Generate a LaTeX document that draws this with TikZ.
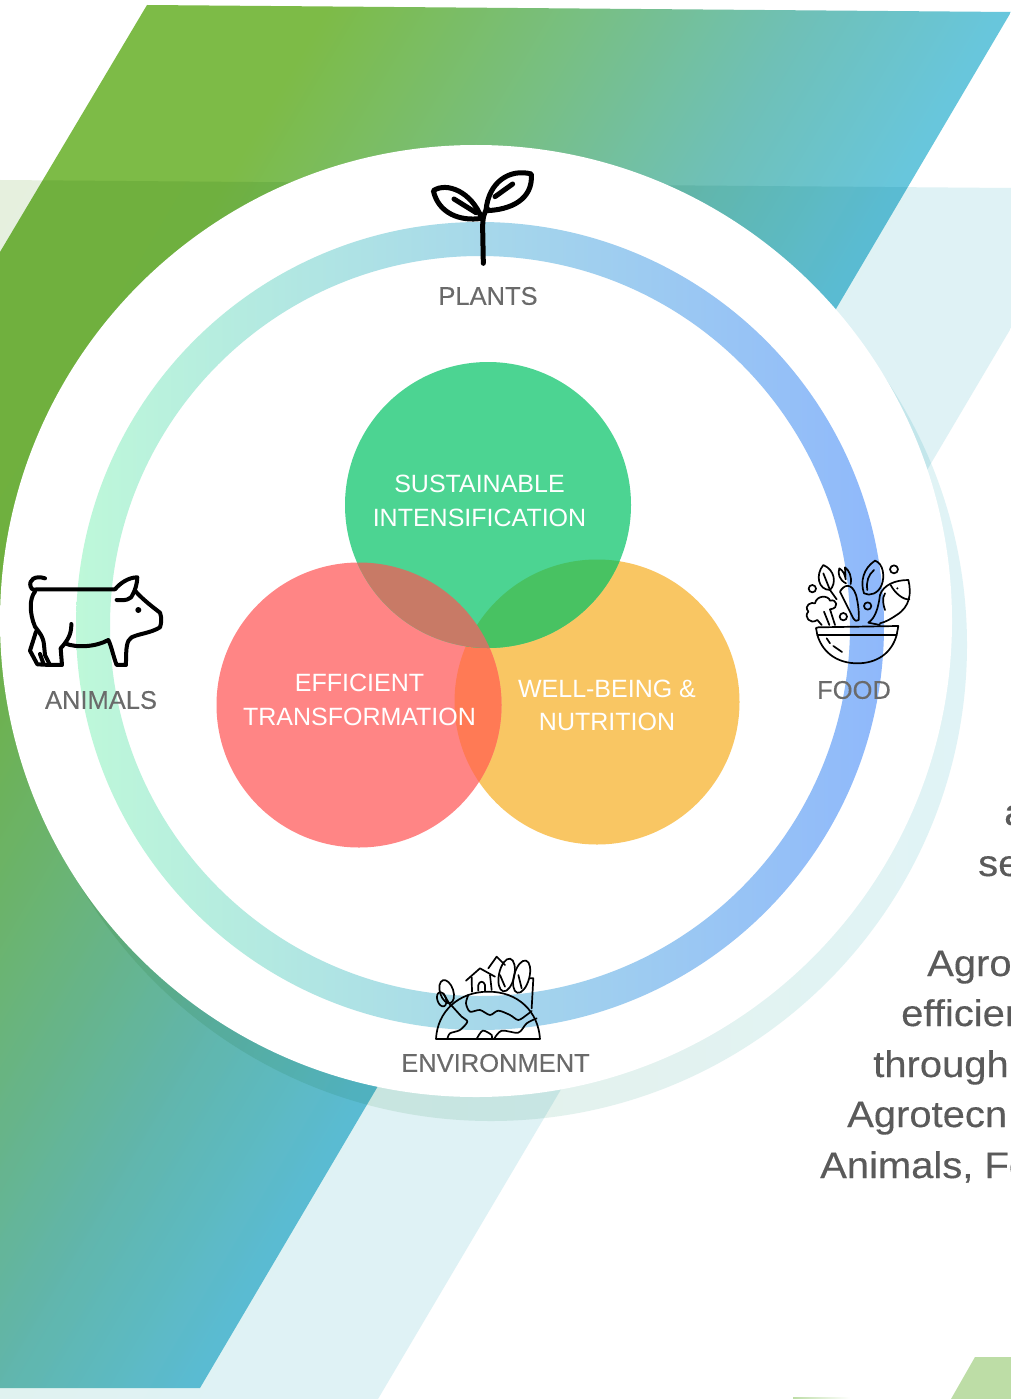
\documentclass[tikz,border=0pt]{standalone}
\usepackage{fontspec}
\setmainfont{Liberation Sans}
\newfontfamily\lblfont[FakeBold=0.25]{Liberation Sans}
\newfontfamily\bodyfont[FakeBold=0.3,FakeStretch=1.08]{Liberation Sans}
\usetikzlibrary{calc}
\definecolor{txtgray}{HTML}{6A6A6A}
\definecolor{bodygray}{HTML}{5A5A5A}
\definecolor{vgreen}{HTML}{4CD492}
\definecolor{vred}{HTML}{FF8585}
\definecolor{vorange}{HTML}{F9C663}
\definecolor{vrg}{HTML}{C87A66}
\definecolor{vgo}{HTML}{48C262}
\definecolor{vro}{HTML}{FF7A55}
\definecolor{ma}{HTML}{7DBB47}
\definecolor{mb}{HTML}{78BF82}
\definecolor{mc}{HTML}{6FC0B7}
\definecolor{md}{HTML}{68C6DC}
\definecolor{pa}{HTML}{E6F0DE}
\definecolor{pb}{HTML}{E2F1EA}
\definecolor{pc}{HTML}{DFF2F5}
\definecolor{sha}{HTML}{E8F1E2}
\definecolor{shb}{HTML}{E0F3F6}
\definecolor{ra}{HTML}{BEF8D9}
\definecolor{rb}{HTML}{ACD9EC}
\definecolor{rc}{HTML}{8FB8FB}
\definecolor{corner}{HTML}{BDDDA6}
\pgfdeclarehorizontalshading{maingrad}{100bp}{color(0bp)=(ma);color(42.7bp)=(ma);color(48.3bp)=(mb);color(53.1bp)=(mc);color(57.3bp)=(md);color(100bp)=(md)}
\pgfdeclarehorizontalshading{palegrad}{100bp}{color(0bp)=(pa);color(38.1bp)=(pa);color(48.1bp)=(pb);color(58.1bp)=(pc);color(100bp)=(pc)}
\tikzset{
  lbl/.style={font=\lblfont\fontsize{25.5}{30}\selectfont,text=txtgray,inner sep=0pt},
  venntxt/.style={font=\fontsize{25}{30}\selectfont,text=white,inner sep=0pt},
  bodytxt/.style={font=\bodyfont\fontsize{37}{44}\selectfont,text=bodygray,inner sep=0pt,anchor=base west},
  iconthick/.style={draw=black,line width=5pt,line cap=round,line join=round,fill=none},
  iconmid/.style={draw=black,line width=4pt,line cap=round,line join=round,fill=none},
  iconthin/.style={draw=black,line width=1.7pt,line cap=round,line join=round,fill=none},
}
\begin{document}
\begin{tikzpicture}[x=1pt,y=-1pt]
\useasboundingbox (0,0) rectangle (1011,1399);
\fill[white] (0,0) rectangle (1011,1399);
\begin{scope}
\clip (0,0) rectangle (1011,1399);
% pale band
\begin{scope}
\clip (0,180) -- (1011,188) -- (1011,328) -- (378,1399) -- (0,1399) -- cycle;
\shade[shading=palegrad,shading angle=-30.5] (-688,-393) rectangle (1312,1607);
\end{scope}
% main band
\begin{scope}[blend mode=multiply]
\clip (147,5) -- (1011,12) -- (200,1388) -- (0,1388) -- (0,252) -- cycle;
\shade[shading=maingrad,shading angle=-30.5] (-688,-393) rectangle (1312,1607);
\end{scope}
% shadow disc
\begin{scope}[blend mode=multiply]
\shade[left color=sha,right color=shb] (491,645) circle (476);
\end{scope}
% white disc
\fill[white] (476,621) circle (476);
% ring
\shade[even odd rule,left color=ra,middle color=rb,right color=rc]
  (480,626) circle (404) (480,626) circle (370);
% Venn circles
\fill[vorange] (597,702) circle (142.5);
\fill[vred] (359,705) circle (142.5);
\begin{scope}\clip (597,702) circle (142.5); \fill[vro] (359,705) circle (142.5); \end{scope}
\fill[vgreen] (488,505) circle (143);
\begin{scope}\clip (597,702) circle (142.5); \fill[vgo] (488,505) circle (143); \end{scope}
\begin{scope}\clip (359,705) circle (142.5); \fill[vrg] (488,505) circle (143); \end{scope}
% body text, cut by the page edge
\node[bodytxt] (t1) at (1004,825) {a};
\node[bodytxt] (t2) at (978,876) {se};
\node[bodytxt] (t3) at (927,976) {Agro};
\node[bodytxt] (t4) at (901,1026) {efficier};
\node[bodytxt] (t5) at (873,1077) {through};
\node[bodytxt] (t6) at (847,1127) {Agrotecn};
\node[bodytxt] (t7) at (820,1178) {Animals, Fo};
% corner shapes
\fill[corner] (975,1357) -- (1011,1357) -- (1011,1399) -- (951,1399) -- cycle;
\shade[left color=corner,right color=white] (793,1397) rectangle (850,1399);
\end{scope}
% labels
\node[lbl] (plants) at (488,296) {PLANTS};
\node[lbl] (animals) at (101,700) {ANIMALS};
\node[lbl] (food) at (854,690) {FOOD};
\node[lbl] (environment) at (495.5,1063) {ENVIRONMENT};
\node[venntxt] (si1) at (479.5,484) {SUSTAINABLE};
\node[venntxt] (si2) at (479.5,518) {INTENSIFICATION};
\node[venntxt] (et1) at (359.5,683) {EFFICIENT};
\node[venntxt] (et2) at (359.5,717) {TRANSFORMATION};
\node[venntxt] (wb1) at (607,689) {WELL-BEING \&};
\node[venntxt] (wb2) at (607,722) {NUTRITION};
% plant icon
\begin{scope}[shift={(400,150)},x=0.3333pt,y=-0.3333pt]
\draw[iconthick] (250,340) -- (248,235) .. controls (248,200) and (252,190) .. (262,175);
\draw[iconthick] (100,122) .. controls (140,95) and (215,125) .. (245,205) .. controls (180,215) and (115,190) .. (100,122) -- cycle;
\draw[iconthick] (162,147) -- (228,188);
\draw[iconthick] (394,72) .. controls (330,55) and (265,95) .. (258,182) .. controls (330,180) and (400,150) .. (394,72) -- cycle;
\draw[iconthick] (338,102) -- (285,140);
\end{scope}
% pig icon
\begin{scope}[shift={(0,550)},x=0.3333pt,y=-0.3333pt]
\draw[iconmid] (135,85) .. controls (105,75) and (85,90) .. (92,110) .. controls (95,120) and (105,122) .. (112,118) -- (345,118) .. controls (360,100) and (385,82) .. (412,82) .. controls (412,100) and (405,120) .. (400,130) .. controls (395,150) and (375,152) .. (350,150);
\draw[iconmid] (405,122) .. controls (425,145) and (450,165) .. (480,188) .. controls (486,205) and (484,220) .. (480,232) .. controls (450,250) and (420,250) .. (395,262) .. controls (380,272) and (378,290) .. (378,345) -- (350,345) .. controls (340,320) and (335,290) .. (325,270) .. controls (290,290) and (230,295) .. (195,280);
\draw[iconmid] (105,125) .. controls (88,145) and (88,190) .. (105,230) .. controls (120,250) and (130,260) .. (132,285) -- (135,315) -- (150,345) -- (186,345) -- (182,295) .. controls (200,275) and (215,255) .. (214,222);
\draw[iconmid] (108,245) -- (90,302) -- (112,343) -- (150,345);
\draw[iconmid] (120,312) -- (130,340);
\fill[black] (415,180) circle (9);
\end{scope}
% food icon
\begin{scope}[shift={(780,540)},x=0.3333pt,y=-0.3333pt]
\draw[iconthin] (115,262) -- (355,258) -- (350,285) -- (112,285) -- (108,264) -- cycle;
\draw[iconthin] (112,285) .. controls (130,345) and (180,370) .. (232,370) .. controls (290,370) and (335,340) .. (350,285);
\draw[iconthin] (140,295) -- (150,310);
\draw[iconthin] (160,318) -- (186,336);
\draw[iconthin] (130,75) .. controls (105,105) and (115,150) .. (150,150) .. controls (170,130) and (165,90) .. (130,75) -- cycle;
\draw[iconthin] (130,100) -- (150,150) -- (170,178);
\draw[iconthin] (180,155) .. controls (190,135) and (215,125) .. (228,165) .. controls (235,190) and (238,225) .. (236,240) .. controls (232,245) and (225,243) .. (220,235) -- (180,155);
\draw[iconthin] (198,130) .. controls (178,120) and (172,100) .. (178,85) .. controls (190,92) and (195,105) .. (197,118) .. controls (197,105) and (195,90) .. (195,82) .. controls (208,92) and (216,110) .. (212,132);
\draw[iconthin] (252,160) .. controls (240,125) and (250,85) .. (285,62) .. controls (310,70) and (315,110) .. (305,135) .. controls (295,160) and (270,170) .. (252,160) -- cycle;
\draw[iconthin] (262,150) .. controls (258,125) and (265,105) .. (282,90);
\draw[iconthin] (385,120) .. controls (345,120) and (310,135) .. (300,165) .. controls (295,205) and (285,235) .. (265,248) -- (300,255);
\draw[iconthin] (385,120) .. controls (395,160) and (390,200) .. (350,225) .. controls (335,235) and (320,245) .. (300,250);
\draw[iconthin] (332,135) .. controls (345,160) and (370,180) .. (388,178);
\draw[iconthin] (315,160) .. controls (305,175) and (310,195) .. (315,210);
\fill[black] (352,145) circle (3.5);
\draw[iconthin] (125,255) -- (112,240) .. controls (90,255) and (70,230) .. (85,215) .. controls (70,195) and (95,185) .. (105,190) .. controls (110,165) and (145,165) .. (150,182) .. controls (170,175) and (180,205) .. (150,208) -- (165,255);
\draw[iconthin] (132,215) -- (148,255);
\draw[iconthin] (97,146) circle (11);
\draw[iconthin] (342,88) circle (12);
\draw[iconthin] (263,198) circle (11);
\draw[iconthin] (190,230) circle (11);
\end{scope}
% environment icon
\begin{scope}[shift={(390,940)},x=0.3333pt,y=-0.3333pt]
\draw[iconthin] (138,297) -- (450,297) .. controls (445,215) and (385,155) .. (295,155) .. controls (205,155) and (142,215) .. (138,297) -- cycle;
\draw[iconthin] plot[smooth] coordinates {(235,165) (228,190) (240,215) (270,210) (300,225) (325,212) (360,225) (385,240) (410,225) (425,213)};
\draw[iconthin] plot[smooth] coordinates {(440,235) (410,250) (385,278) (335,272) (312,297)};
\draw[iconthin] plot[smooth] coordinates {(185,197) (215,230) (232,245) (210,270) (180,280) (172,297)};
\draw[iconthin] plot[smooth] coordinates {(260,297) (278,272) (305,285) (305,297)};
\draw[iconthin] (228,122) -- (270,85) -- (315,110);
\draw[iconthin] (245,112) -- (246,155);
\draw[iconthin] (300,105) -- (305,150);
\draw[iconthin] (265,152) -- (265,135) .. controls (268,122) and (282,122) .. (285,135) -- (285,152);
\draw[iconthin] (295,85) -- (320,50) -- (345,75);
\draw[iconthin,rotate around={-12:(350,105)}] (350,105) ellipse (23 and 50);
\draw[iconthin,rotate around={-15:(395,110)}] (395,110) ellipse (23 and 50);
\draw[iconthin] (330,105) -- (345,140);
\draw[iconthin] (385,105) -- (395,145);
\draw[iconthin] (420,115) -- (430,115) -- (425,205);
\draw[iconthin,rotate around={18:(170,155)}] (170,155) ellipse (20 and 36);
\draw[iconthin,rotate around={18:(155,178)}] (155,178) ellipse (13 and 22);
\draw[iconthin] (160,160) -- (182,198);
\end{scope}
\end{tikzpicture}
\end{document}
